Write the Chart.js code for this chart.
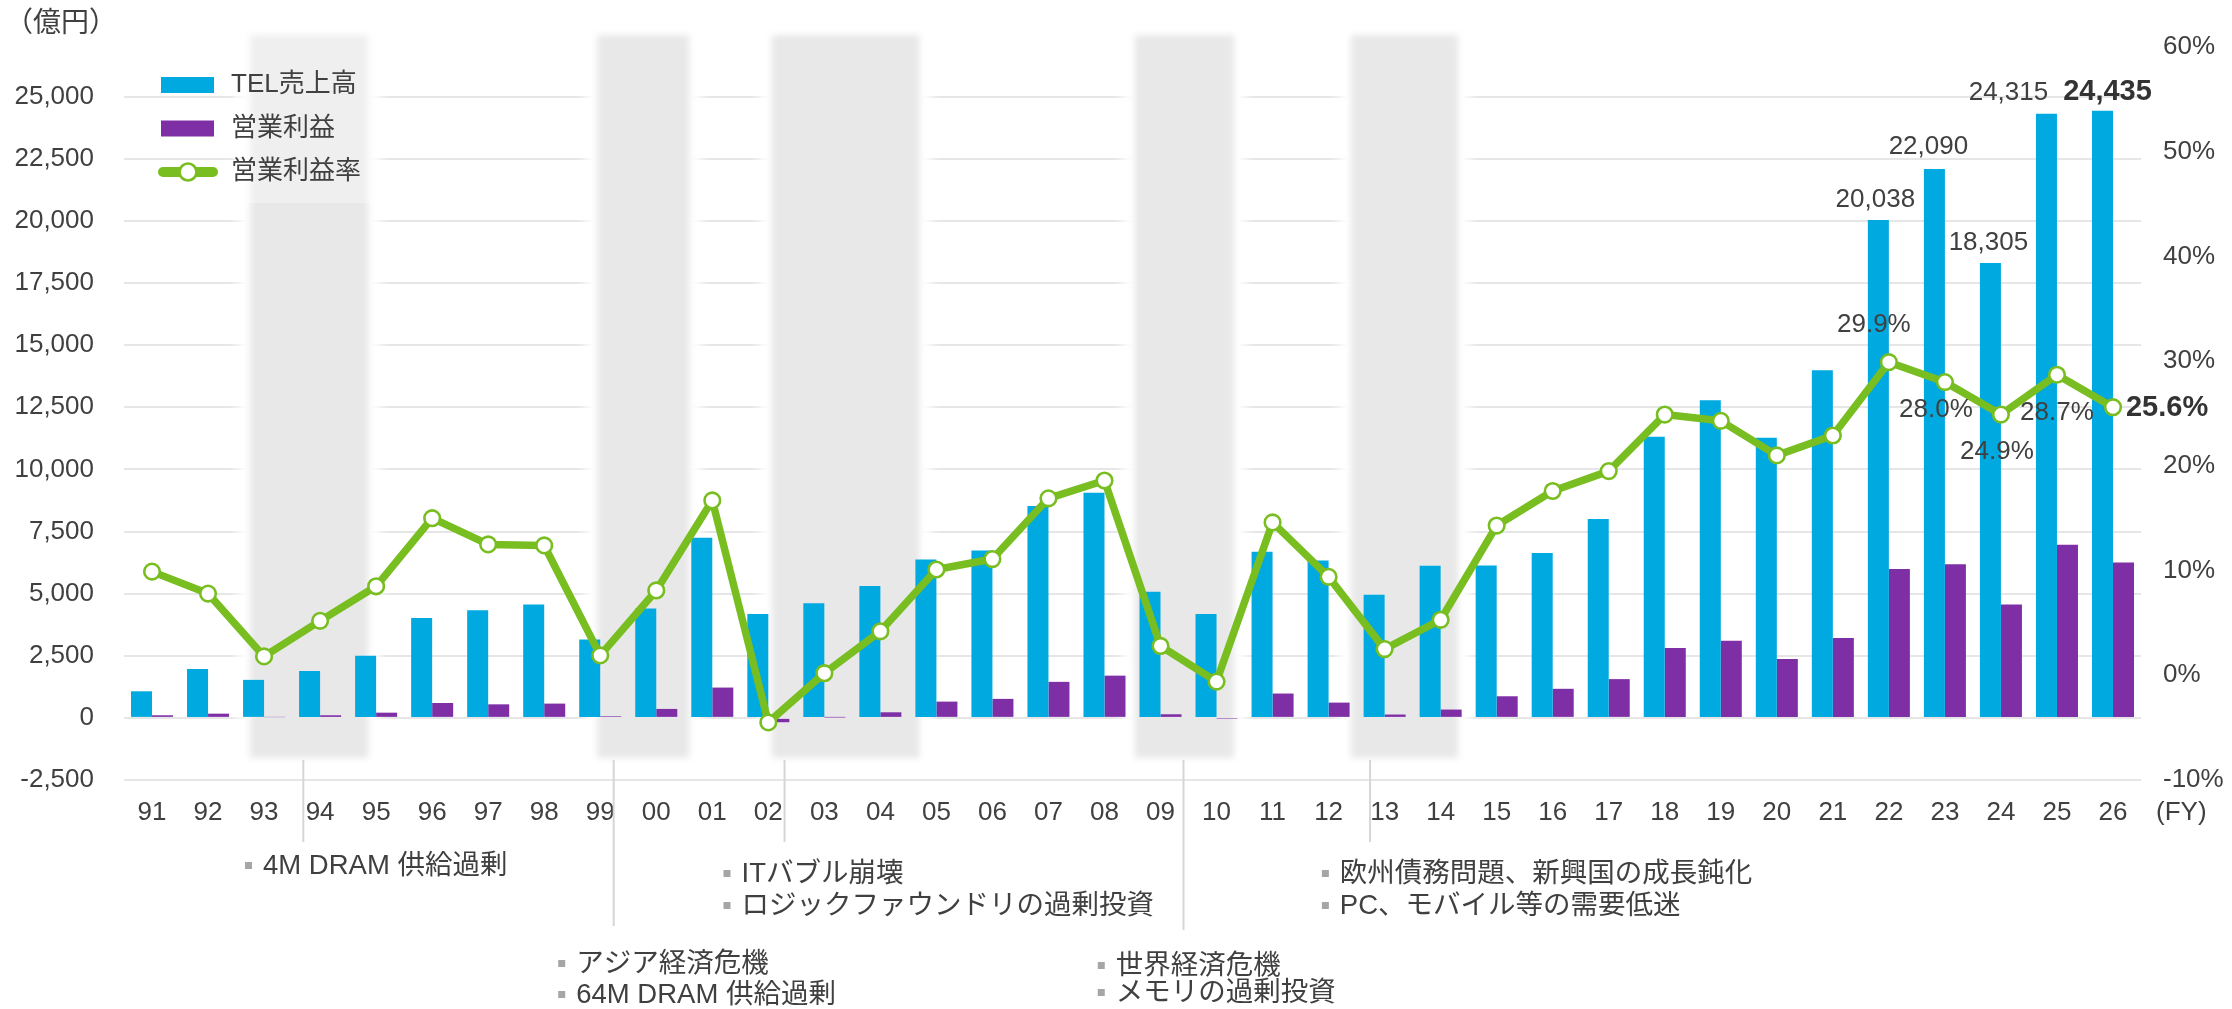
<!DOCTYPE html>
<html>
<head>
<meta charset="utf-8">
<script src="https://cdn.jsdelivr.net/npm/chart.js@4"></script>
<style>
html,body{margin:0;padding:0;background:#ffffff;}
canvas{display:block;}
</style>
</head>
<body>
<canvas id="c" width="2232" height="1009"></canvas>
<script>
// ---------------- data ----------------
const categories = ['91','92','93','94','95','96','97','98','99','00','01','02','03','04','05','06','07','08','09','10','11','12','13','14','15','16','17','18','19','20','21','22','23','24','25','26'];
const sales = [1070,1970,1530,1890,2500,4020,4330,4560,3150,
               4400,7250,4180,4610,5310,6370,6740,8530,9060,5080,
               4180,6690,6330,4960,6120,6130,6640,8000,11310,12780,
               11270,13990,20038,22090,18305,24315,24435];
const operatingIncome = [105,170,30,105,210,600,545,575,65,
               360,1220,-175,15,225,655,765,1450,1700,145,
               -20,980,615,135,335,870,1170,1560,2810,3100,
               2370,3210,5990,6180,4560,6970,6250];
const operatingMargin = [9.9,7.8,1.8,5.2,8.5,15.0,12.5,12.4,1.9,
               8.1,16.7,-4.5,0.2,4.2,10.1,11.1,16.9,18.6,2.8,
               -0.6,14.6,9.4,2.5,5.3,14.3,17.6,19.5,24.9,24.3,
               21.0,22.9,29.9,28.0,24.9,28.7,25.6];
const seriesNames = ['TEL売上高','営業利益','営業利益率'];
const leftTicks = [-2500,0,2500,5000,7500,10000,12500,15000,17500,20000,22500,25000];
const rightTicks = [-10,0,10,20,30,40,50,60];
const unitLabel = '（億円）';
const fyLabel = '(FY)';
// categories carrying value labels
const labelledYears = ['22','23','24','25','26'];
const highlightYear = '26';
// shaded downturn periods (category-index units)
const bands = [[1.75,3.86],[7.95,9.59],[11.06,13.70],[17.54,19.31],[21.40,23.31]];
// downturn notes
const notes = [
  {line: 2.70, text: ['4M DRAM 供給過剰']},
  {line: 8.24, text: ['アジア経済危機','64M DRAM 供給過剰']},
  {line: 11.29, text: ['ITバブル崩壊','ロジックファウンドリの過剰投資']},
  {line: 18.41, text: ['世界経済危機','メモリの過剰投資']},
  {line: 21.74, text: ['欧州債務問題、新興国の成長鈍化','PC、モバイル等の需要低迷']}
];

// ---------------- style ----------------
const FAMILY = '"Liberation Sans", "Noto Sans CJK JP", sans-serif';
const TXT = '#404040';
const BLUE = '#00A9E0', PURPLE = '#7F2FA6', GREEN = '#78BE20';
const font = (s, b) => (b ? 'bold ' : '') + s + 'px ' + FAMILY;
// note layout: bullet anchor (index units), line bottom, text rows (px)
const noteLayout = [
  {bullet: 1.66, lineEnd: 842, rows: [866]},
  {bullet: 7.25, lineEnd: 926, rows: [964, 995]},
  {bullet: 10.20, lineEnd: 842, rows: [874, 906]},
  {bullet: 16.88, lineEnd: 930, rows: [966, 993]},
  {bullet: 20.88, lineEnd: 842, rows: [874, 906]}
];
const salesLabelOffset = {'22': [-3,-20], '23': [-6,-22], '24': [-2,-20], '25': [-38,-21], '26': [5,-19]};
const marginLabelOffset = {'22': [-15,-37,'center'], '23': [-9,28,'center'], '24': [-4,37,'center'], '25': [0,38,'center'], '26': [13,1,'left']};

Chart.defaults.font.family = FAMILY;
Chart.defaults.font.size = 26;
Chart.defaults.color = TXT;

const bandPlugin = {
  id: 'bands',
  beforeDatasetsDraw(chart) {
    const {ctx, chartArea: ca, scales: {x}} = chart;
    const top = ca.top - 12, bot = ca.bottom - 22;
    ctx.save();
    bands.forEach(([a, b], i) => {
      const x1 = x.getPixelForValue(a), x2 = x.getPixelForValue(b);
      ctx.filter = 'blur(6px)';
      ctx.fillStyle = '#ffffff';
      ctx.fillRect(x1 - 12, top - 8, x2 - x1 + 24, bot - top + 16);
      ctx.filter = 'blur(3px)';
      ctx.fillStyle = '#e8e8e8';
      ctx.fillRect(x1, top, x2 - x1, bot - top);
      ctx.filter = 'none';
      if (i === 0) {
        ctx.fillStyle = 'rgba(255,255,255,0.32)';
        ctx.fillRect(x1 - 16, 0, x2 - x1 + 22, ca.top + 156);
      }
    });
    ctx.restore();
  }
};

const labelPlugin = {
  id: 'valueLabels',
  afterDatasetsDraw(chart) {
    const {ctx} = chart;
    const salesMeta = chart.getDatasetMeta(0);
    const marginMeta = chart.getDatasetMeta(2);
    ctx.save();
    ctx.textBaseline = 'middle';
    labelledYears.forEach(yr => {
      const i = categories.indexOf(yr);
      const bold = yr === highlightYear;
      const bar = salesMeta.data[i];
      const so = salesLabelOffset[yr];
      ctx.font = font(bold ? 29 : 26, bold);
      ctx.fillStyle = bold ? '#333333' : TXT;
      ctx.textAlign = 'center';
      ctx.fillText(sales[i].toLocaleString('en-US'), bar.x + so[0], bar.y + so[1]);
      const pt = marginMeta.data[i];
      const mo = marginLabelOffset[yr];
      ctx.textAlign = mo[2];
      ctx.fillText(operatingMargin[i].toFixed(1) + '%', pt.x + mo[0], pt.y + mo[1]);
    });
    ctx.restore();
  }
};

const decorPlugin = {
  id: 'decor',
  afterDraw(chart) {
    const {ctx, chartArea: ca, scales: {x}} = chart;
    ctx.save();
    ctx.font = font(28);
    ctx.fillStyle = TXT;
    ctx.textAlign = 'left';
    ctx.textBaseline = 'middle';
    ctx.fillText(unitLabel, 5, 24);
    ctx.font = font(26);
    ctx.fillText(fyLabel, ca.right + 15, ca.bottom + 33);

    // legend
    const lx = ca.left + 37, tx = ca.left + 107;
    const rows = [85, 128.5, 172];
    ctx.fillStyle = BLUE;
    ctx.fillRect(lx, rows[0] - 8, 53, 16);
    ctx.fillStyle = PURPLE;
    ctx.fillRect(lx, rows[1] - 8, 53, 16);
    ctx.strokeStyle = GREEN;
    ctx.lineWidth = 10;
    ctx.lineCap = 'round';
    ctx.beginPath();
    ctx.moveTo(lx + 2, rows[2]);
    ctx.lineTo(lx + 52, rows[2]);
    ctx.stroke();
    ctx.lineCap = 'butt';
    ctx.beginPath();
    ctx.arc(lx + 27, rows[2], 8.5, 0, Math.PI * 2);
    ctx.fillStyle = '#ffffff';
    ctx.fill();
    ctx.lineWidth = 2.7;
    ctx.stroke();
    ctx.fillStyle = TXT;
    ctx.font = font(26);
    ctx.textAlign = 'left';
    seriesNames.forEach((n, k) => ctx.fillText(n, tx, rows[k]));

    // downturn notes
    notes.forEach((n, k) => {
      const L = noteLayout[k];
      const lxp = x.getPixelForValue(n.line);
      ctx.strokeStyle = '#d6d6d6';
      ctx.lineWidth = 2;
      ctx.beginPath();
      ctx.moveTo(lxp, ca.bottom - 20);
      ctx.lineTo(lxp, L.lineEnd);
      ctx.stroke();
      const bx = x.getPixelForValue(L.bullet);
      n.text.forEach((t, r) => {
        const y = L.rows[r];
        ctx.fillStyle = '#a6a6a6';
        ctx.fillRect(bx, y - 4, 7, 7);
        ctx.fillStyle = TXT;
        ctx.font = font(27.5);
        ctx.fillText(t, bx + 18, y);
      });
    });
    ctx.restore();
  }
};

new Chart(document.getElementById('c'), {
  type: 'bar',
  data: {
    labels: categories,
    datasets: [
      {label: seriesNames[0], data: sales, backgroundColor: BLUE, yAxisID: 'y', order: 1,
       categoryPercentage: 0.75, barPercentage: 1.0},
      {label: seriesNames[1], data: operatingIncome, backgroundColor: PURPLE, yAxisID: 'y', order: 2,
       categoryPercentage: 0.75, barPercentage: 1.0},
      {type: 'line', label: seriesNames[2], data: operatingMargin, yAxisID: 'y1', order: 0,
       borderColor: GREEN, borderWidth: 7.5, borderJoinStyle: 'round', tension: 0,
       pointRadius: 7.8, pointBorderWidth: 2.6, pointBackgroundColor: '#ffffff',
       pointBorderColor: GREEN, fill: false}
    ]
  },
  options: {
    responsive: false,
    devicePixelRatio: 1,
    animation: false,
    events: [],
    layout: {padding: {top: 47, left: 0, right: 0, bottom: 0}},
    plugins: {legend: {display: false}, tooltip: {enabled: false}},
    scales: {
      x: {
        type: 'category',
        offset: true,
        grid: {display: false, drawTicks: false},
        border: {display: false},
        ticks: {autoSkip: false, maxRotation: 0, minRotation: 0, padding: 17, color: TXT, font: {size: 26}},
        afterFit: s => { s.height = 229; }
      },
      y: {
        position: 'left',
        min: -2500, max: 27000,
        grid: {color: '#e6e6e6', lineWidth: 2, drawTicks: false},
        border: {display: false},
        ticks: {padding: 30, color: TXT, font: {size: 26},
                callback: v => Number(v).toLocaleString('en-US')},
        afterBuildTicks: s => { s.ticks = leftTicks.map(v => ({value: v})); },
        afterFit: s => { s.width = 124; }
      },
      y1: {
        position: 'right',
        min: -10, max: 60,
        grid: {display: false, drawTicks: false},
        border: {display: false},
        ticks: {padding: 22, color: TXT, font: {size: 26}, callback: v => v + '%'},
        afterBuildTicks: s => { s.ticks = rightTicks.map(v => ({value: v})); },
        afterFit: s => { s.width = 91; }
      }
    }
  },
  plugins: [bandPlugin, labelPlugin, decorPlugin]
});
</script>
</body>
</html>
